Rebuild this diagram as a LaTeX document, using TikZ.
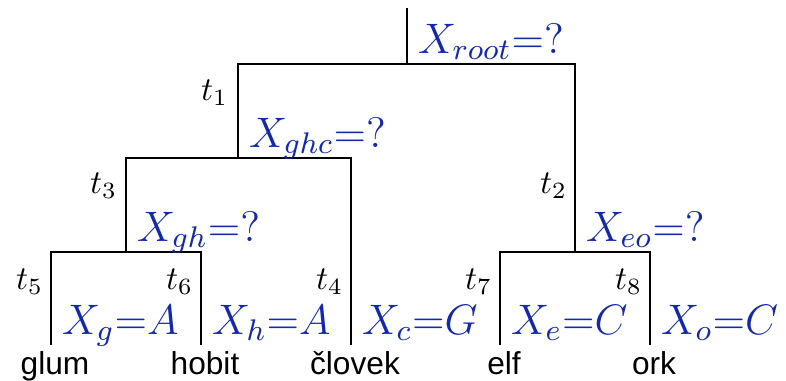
\RequirePackage{fix-cm}
\documentclass[tikz,border=0pt]{standalone}
\usepackage{amsmath}
\usepackage{fontspec}
\setsansfont{Liberation Sans}
\usepackage{tikz}
\usetikzlibrary{calc}
\definecolor{valblue}{RGB}{20, 40, 170}

\begin{document}
\begin{tikzpicture}[x=0.3pt, y=-0.3pt, line width=0.6pt,
    val/.style={anchor=base west, inner sep=0pt, font=\fontsize{12.8}{15}\selectfont, text=valblue},
    edgelabel/.style={anchor=base east, inner sep=0pt},
    leaf/.style={anchor=base, inner sep=0pt, font=\sffamily\fontsize{9.5}{11}\selectfont}]
    \useasboundingbox (0,0) rectangle (786,380);
    % branching points
    \coordinate (top) at (407,8);
    \coordinate (root) at (407,64);
    \coordinate (ghc) at (238,158);
    \coordinate (gh) at (126,252);
    \coordinate (eo) at (575,252);
    % leaf ends
    \coordinate (g) at (51,345);
    \coordinate (h) at (201,345);
    \coordinate (c) at (351,345);
    \coordinate (e) at (500,345);
    \coordinate (o) at (650,345);
    % tree
    \draw (top) -- (root);
    \draw (ghc) |- (root) -| (eo);
    \draw (gh) |- (ghc) -| (c);
    \draw (g) |- (gh) -| (h);
    \draw (e) |- (eo) -| (o);
    % branch lengths
    \node[edgelabel] (t1) at (229,100) {$t_1$};
    \node[edgelabel] (t2) at (568,193) {$t_2$};
    \node[edgelabel] (t3) at (118,193) {$t_3$};
    \node[edgelabel] (t4) at (344,289) {$t_4$};
    \node[edgelabel] (t5) at (44,289) {$t_5$};
    \node[edgelabel] (t6) at (194,289) {$t_6$};
    \node[edgelabel] (t7) at (493,289) {$t_7$};
    \node[edgelabel] (t8) at (643,289) {$t_8$};
    % states
    \node[val] (xroot) at ($(root)+(10,-11)$) {$X_{root}{=}?$};
    \node[val] (xghc) at ($(ghc)+(10,-11)$) {$X_{ghc}{=}?$};
    \node[val] (xgh) at ($(gh)+(10,-11)$) {$X_{gh}{=}?$};
    \node[val] (xeo) at ($(eo)+(10,-11)$) {$X_{eo}{=}?$};
    \node[val] (xg) at ($(g)+(10,-11)$) {$X_g{=}A$};
    \node[val] (xh) at ($(h)+(10,-11)$) {$X_h{=}A$};
    \node[val] (xc) at ($(c)+(10,-11)$) {$X_c{=}G$};
    \node[val] (xe) at ($(e)+(10,-11)$) {$X_e{=}C$};
    \node[val] (xo) at ($(o)+(10,-11)$) {$X_o{=}C$};
    % species
    \node[leaf] (glum) at ($(g)+(4,29)$) {glum};
    \node[leaf] (hobit) at ($(h)+(4,29)$) {hobit};
    \node[leaf] (clovek) at ($(c)+(4,29)$) {človek};
    \node[leaf] (elf) at ($(e)+(4,29)$) {elf};
    \node[leaf] (ork) at ($(o)+(4,29)$) {ork};
\end{tikzpicture}
\end{document}
